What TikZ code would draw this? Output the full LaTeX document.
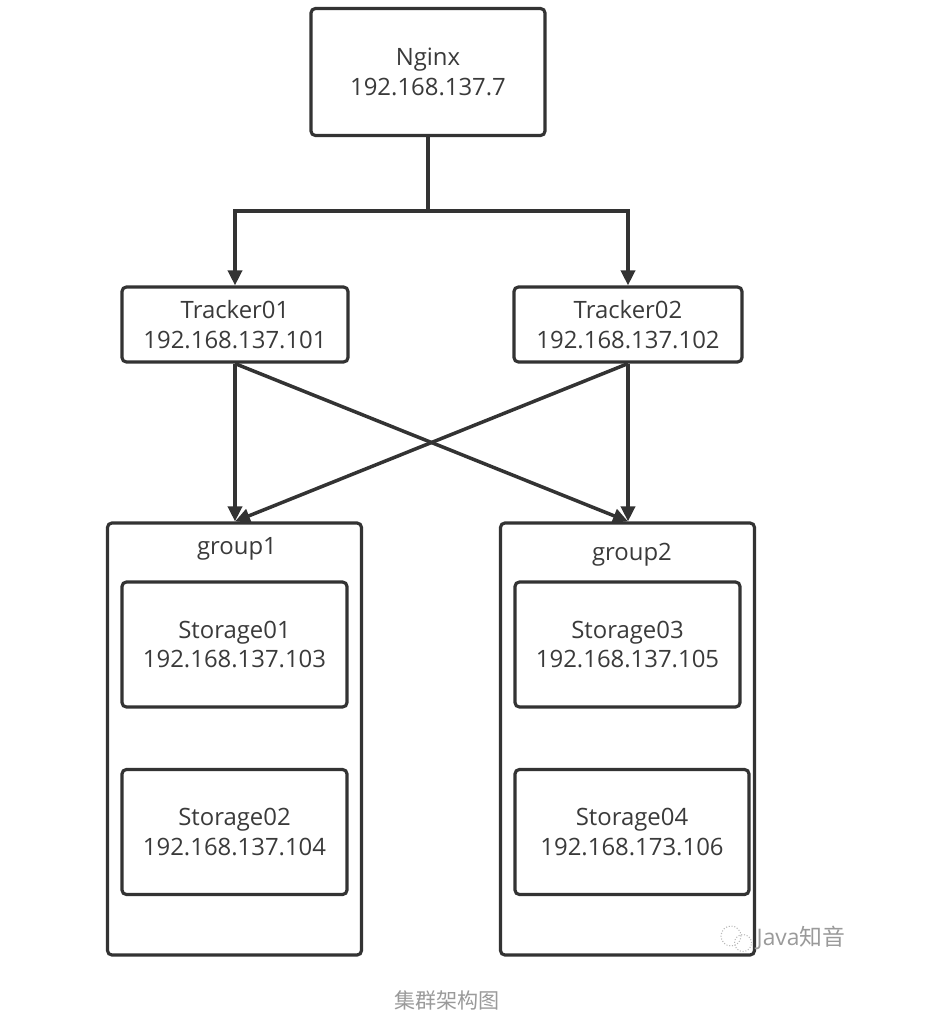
\documentclass[tikz,border=0pt]{standalone}
\usepackage{fontspec}
\setmainfont{Open Sans}
\newfontfamily\cjk{Noto Sans CJK SC}
\usepackage{tikz}
\usetikzlibrary{arrows.meta,calc,positioning}
\definecolor{Edge}{HTML}{333333}
\definecolor{Label}{HTML}{3A3A3A}
\definecolor{Mark}{HTML}{9A9A9A}

\begin{document}
\begin{tikzpicture}[
  box/.style={draw=Edge,line width=1.8pt,rounded corners=2.5pt,fill=white,align=center,
    text=Label,font=\fontsize{13.6}{17}\selectfont,inner sep=0pt},
  grp/.style={draw=Edge,line width=1.8pt,rounded corners=2.5pt,minimum width=5.08cm,minimum height=8.64cm},
  glabel/.style={text=Label,font=\fontsize{13.6}{17}\selectfont},
  conn/.style={-{Triangle[length=3mm,width=2.8mm]},draw=Edge,line width=2pt}
]
\useasboundingbox (0,0) rectangle (18.84,-20.58);

\node[box,minimum width=4.68cm,minimum height=2.54cm] (nginx) at (8.56,-1.44) {Nginx\\192.168.137.7};
\node[box,minimum width=4.52cm,minimum height=1.5cm] (t1) at (4.70,-6.49) {Tracker01\\192.168.137.101};
\node[box,minimum width=4.56cm,minimum height=1.5cm] (t2) at (12.56,-6.49) {Tracker02\\192.168.137.102};

\node[grp] (g1) at (4.69,-14.78) {};
\node[grp] (g2) at (12.55,-14.78) {};
\node[glabel] (g1lbl) at (4.74,-10.98) {group1};
\node[glabel] (g2lbl) at (12.64,-11.10) {group2};

\node[box,minimum width=4.5cm,minimum height=2.5cm] (s1) at (4.69,-12.89) {Storage01\\192.168.137.103};
\node[box,minimum width=4.5cm,minimum height=2.5cm] (s2) at (4.69,-16.64) {Storage02\\192.168.137.104};
\node[box,minimum width=4.5cm,minimum height=2.5cm] (s3) at (12.55,-12.89) {Storage03\\192.168.137.105};
\node[box,minimum width=4.68cm,minimum height=2.5cm] (s4) at (12.64,-16.64) {Storage04\\192.168.173.106};

\coordinate (split) at (8.56,-4.22);
\draw[draw=Edge,line width=2pt] (nginx.south) -- (split);
\draw[conn] (split) -| (t1.north);
\draw[conn] (split) -| (t2.north);

\draw[conn] (t1.south) -- (t1.south |- g1.north);
\draw[conn] (t2.south) -- (t2.south |- g2.north);
\draw[conn] (t1.south) -- (t2.south |- g2.north);
\draw[conn] (t2.south) -- (t1.south |- g1.north);

% watermark
\begin{scope}[draw=Mark!70,line width=0.6pt,densely dotted]
  \draw (14.62,-18.72) circle (0.2);
  \draw (14.86,-18.86) circle (0.17);
\end{scope}
\node[text=Mark,font=\fontsize{13}{15}\selectfont,inner sep=0pt] (mark) at (16.02,-18.76) {Java{\cjk 知音}};
\node[text=Mark,font=\cjk\fontsize{12}{14}\selectfont] (caption) at (8.94,-20.0) {集群架构图};
\end{tikzpicture}
\end{document}
